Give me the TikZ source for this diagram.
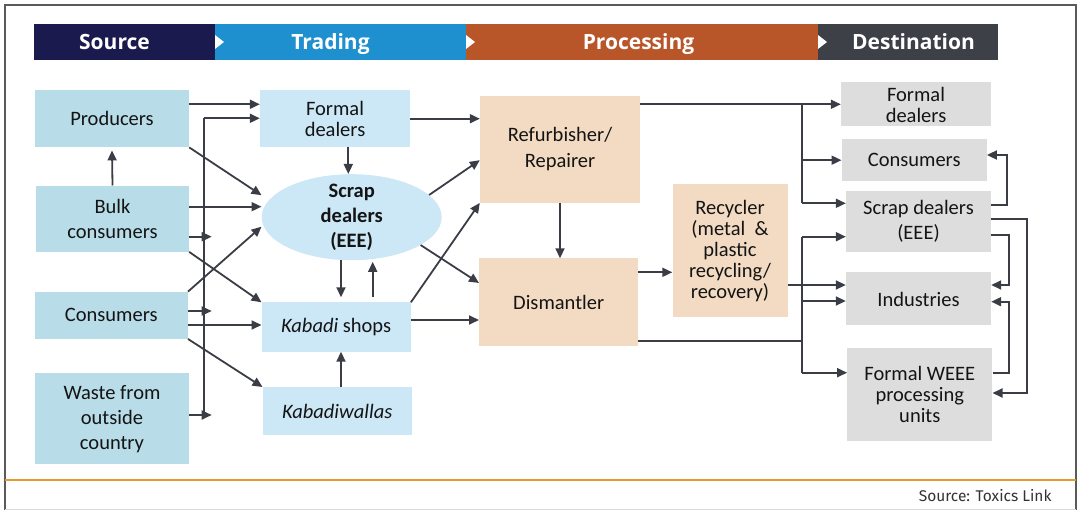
\documentclass[tikz,border=0pt]{standalone}
\usepackage{fontspec}
\setmainfont{Carlito}
\newfontfamily\headfont{Open Sans}
\newfontfamily\notefont{Fira Sans}
\usetikzlibrary{shapes.geometric,arrows.meta}

\definecolor{srcbar}{HTML}{1B1A4E}
\definecolor{trdbar}{HTML}{1E8FCF}
\definecolor{prcbar}{HTML}{B8562A}
\definecolor{dstbar}{HTML}{3E4048}
\definecolor{srcfill}{HTML}{B8DCE8}
\definecolor{trdfill}{HTML}{CCE7F6}
\definecolor{prcfill}{HTML}{F2DBC2}
\definecolor{dstfill}{HTML}{DDDDDD}
\definecolor{linec}{HTML}{3A3D45}
\definecolor{boxtext}{HTML}{141414}
\definecolor{framec}{HTML}{5A5A5A}
\definecolor{rulec}{HTML}{E39B2D}
\definecolor{notetext}{HTML}{333333}

\begin{document}
\begin{tikzpicture}[x=1pt,y=-1pt,
    box/.style={rectangle, inner sep=0pt, align=center, text=boxtext,
        font=\fontsize{20.5}{21}\selectfont},
    srcbox/.style={box, fill=srcfill},
    trdbox/.style={box, fill=trdfill},
    prcbox/.style={box, fill=prcfill},
    dstbox/.style={box, fill=dstfill},
    headtext/.style={anchor=base, text=white, font=\headfont\bfseries\fontsize{21}{24}\selectfont},
    arr/.style={draw=linec, line width=1.8pt, -{Triangle[length=10pt,width=9pt]}},
    link/.style={draw=linec, line width=1.8pt}]
    \useasboundingbox (0,0) rectangle (1078,510);

    % Frame
    \draw[framec, line width=1.3pt] (5,510) -- (5,5) -- (1076,5) -- (1076,510);
    \draw[gray!30, line width=1pt] (5,509) -- (1076,509);
    \draw[rulec, line width=1.2pt] (5,480) -- (1076,480);

    % Header
    \fill[srcbar] (34.4,24) rectangle (215,60);
    \fill[trdbar] (215,24) rectangle (466,60);
    \fill[prcbar] (466,24) rectangle (818,60);
    \fill[dstbar] (818,24) rectangle (998,60);
    \fill[white] (215,35) -- (224,42) -- (215,49) -- cycle;
    \fill[white] (466,35) -- (475,42) -- (466,49) -- cycle;
    \fill[white] (818,35) -- (827,42) -- (818,49) -- cycle;
    \node[headtext] (hsrc) at (114.5,49.5) {Source};
    \node[headtext] (htrd) at (330.5,49.5) {Trading};
    \node[headtext] (hprc) at (638.5,49.5) {Processing};
    \node[headtext] (hdst) at (913.5,49.5) {Destination};

    % Source
    \node[srcbox, minimum width=154pt, minimum height=57pt] (prod) at (112,118.7) {Producers};
    \node[srcbox, minimum width=153pt, minimum height=66pt] (bulk) at (112.5,218.7) {Bulk\\[4pt]consumers};
    \node[srcbox, minimum width=153pt, minimum height=47pt] (scons) at (111.3,315.3) {Consumers};
    \node[srcbox, minimum width=154pt, minimum height=91pt] (waste) at (112,418.7) {Waste from\\[4pt]outside\\[4pt]country};

    % Trading
    \node[trdbox, minimum width=150pt, minimum height=57pt] (fdeal) at (335,118.7) {Formal\\dealers};
    \node[trdbox, ellipse, inner ysep=-6pt, minimum width=180pt, minimum height=86pt,
        font=\bfseries\fontsize{20.5}{21}\selectfont] (scrap) at (351.7,217.2) {Scrap\\[4pt]dealers\\[4pt](EEE)};
    \node[trdbox, minimum width=149pt, minimum height=49pt] (kshop) at (336.2,327) {\textit{Kabadi} shops};
    \node[trdbox, minimum width=149pt, minimum height=48pt] (kwalla) at (337.2,411.2) {\textit{Kabadiwallas}};

    % Processing
    \node[prcbox, minimum width=160pt, minimum height=107pt] (refurb) at (560,149.2) {Refurbisher/\\[5pt]Repairer};
    \node[prcbox, minimum width=159pt, minimum height=87pt] (dism) at (558.7,302) {Dismantler};
    \node[prcbox, minimum width=115pt, minimum height=133pt] (recyc) at (730,250.8) {Recycler\\(metal~~\&\\plastic\\recycling/\\recovery)};

    % Destination
    \node[dstbox, minimum width=150pt, minimum height=44pt] (dfdeal) at (916,104.5) {Formal\\dealers};
    \node[dstbox, minimum width=145pt, minimum height=42pt] (dcons) at (914.2,160.2) {Consumers};
    \node[dstbox, minimum width=145pt, minimum height=61pt] (dscrap) at (918.5,221.3) {Scrap dealers\\[4pt](EEE)};
    \node[dstbox, minimum width=145pt, minimum height=53pt] (ind) at (918.5,299) {Industries};
    \node[dstbox, minimum width=145pt, minimum height=93pt] (weee) at (919.8,394.2) {Formal WEEE\\processing\\units};

    % Source -> Trading
    \coordinate (busN) at (204.3,118.3);
    \coordinate (busS) at (204.3,415);
    \coordinate (tipL) at (211.7,415);
    \draw[link] (busS) -- (busN);
    \draw[arr] (busN) -- (fdeal.west |- busN);
    \draw[arr] (bulk.east |- 0,236.7) -- (tipL |- 0,236.7);
    \draw[arr] (scons.east |- 0,311) -- (tipL |- 0,311);
    \draw[arr] (waste.east |- busS) -- (tipL);
    \draw[arr] (prod.east |- 0,104.3) -- (fdeal.west |- 0,104.3);
    \draw[arr] (bulk.north) -- ([yshift=-3pt]prod.south);
    \draw[arr] (prod.south east) -- ([yshift=22pt]scrap.west);
    \draw[arr] (bulk.east |- 0,206.7) -- (scrap.west |- 0,206.7);
    \draw[arr] (bulk.south east) -- (kshop.north west);
    \draw[arr] (scons.north east) -- ([yshift=-9.5pt]scrap.west);
    \draw[arr] (scons.east |- 0,325) -- (kshop.west |- 0,325);
    \draw[arr] (scons.south east) -- (kwalla.north west);

    % Within Trading
    \draw[arr] ([xshift=13.3pt]fdeal.south) -- ([xshift=-3.4pt]scrap.north);
    \draw[arr] ([xshift=-10.7pt]scrap.south) -- ([xshift=4.8pt,yshift=5pt]kshop.north);
    \draw[arr] ([xshift=36.5pt,yshift=5pt]kshop.north) -- ([xshift=21pt,yshift=-1.4pt]scrap.south);
    \draw[arr] ([xshift=3.8pt]kwalla.north) -- ([xshift=4.8pt]kshop.south);

    % Trading -> Processing
    \draw[arr] (fdeal.east) -- (refurb.west |- fdeal.east);
    \draw[arr] (scrap.16) -- ([yshift=-11pt]refurb.west);
    \draw[arr] (kshop.north east) -- (refurb.south west);
    \draw[arr] (scrap.-22) -- ([yshift=19pt]dism.west);
    \draw[arr] (kshop.east |- 0,320) -- (dism.west |- 0,320);
    \draw[arr] (refurb.south) -- (refurb.south |- dism.north);
    \draw[arr] (dism.east |- 0,272.3) -- (recyc.west |- 0,272.3);

    % Processing -> Destination
    \coordinate (busA) at (802.3,104.3);
    \coordinate (busB) at (802.3,203.3);
    \coordinate (busC) at (802.3,236.7);
    \coordinate (busD) at (802.3,372.7);
    \draw[arr] (refurb.east |- busA) -- (dfdeal.west |- busA);
    \draw[link] (busA) -- (busB);
    \draw[arr] (busA |- dcons.west) -- (dcons.west);
    \draw[arr] (busB) -- (dscrap.west |- busB);
    \draw[link] (dism.east |- 0,340.7) -- (busC |- 0,340.7);
    \draw[link] (busC) -- (busD);
    \draw[arr] (busC) -- (dscrap.west |- busC);
    \draw[arr] (busC |- 0,301) -- (ind.west |- 0,301);
    \draw[arr] (busD) -- (weee.west |- busD);
    \draw[arr] (recyc.east |- 0,285) -- (ind.west |- 0,285);

    % Within Destination
    \draw[arr] (dscrap.east |- 0,205) -- ++(15.7,0) |- (dcons.east |- 0,155);
    \draw[arr] (dscrap.east |- 0,219) -- ++(35.7,0) |- (weee.east |- 0,393);
    \draw[arr] (dscrap.east |- 0,235) -- ++(18,0) |- (ind.east |- 0,285);
    \draw[arr] (weee.east |- 0,373) -- ++(16.7,0) |- (ind.east |- 0,301.7);

    % Note
    \node[anchor=base east, text=notetext, font=\notefont\fontsize{15.5}{18}\selectfont] (note) at (1055,501) {Source: Toxics Link};
\end{tikzpicture}
\end{document}
